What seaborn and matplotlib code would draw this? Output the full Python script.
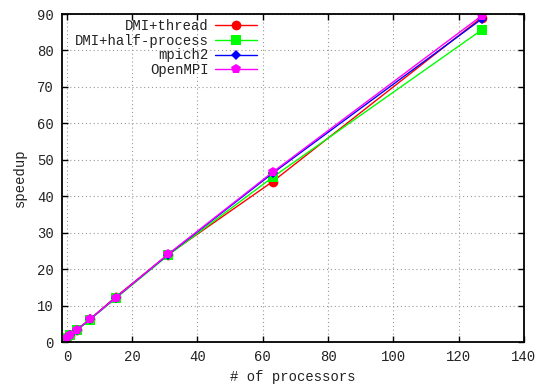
import matplotlib
matplotlib.use("Agg")
import matplotlib.pyplot as plt
import seaborn as sns
import pandas as pd

# data
processors = [0, 1, 3, 7, 15, 31, 63, 127]
dmi_thread = [1.0, 2.0, 3.3, 6.2, 12.4, 24.0, 44.0, 89.0]
dmi_half_process = [1.0, 1.9, 3.2, 6.1, 12.0, 23.8, 45.2, 85.6]
mpich2 = [1.0, 2.0, 3.3, 6.2, 12.2, 24.0, 46.3, 88.6]
openmpi = [1.0, 2.0, 3.3, 6.2, 12.2, 24.1, 46.6, 89.5]
series_names = ["DMI+thread", "DMI+half-process", "mpich2", "OpenMPI"]
x_ticks = [0, 20, 40, 60, 80, 100, 120, 140]
y_ticks = [0, 10, 20, 30, 40, 50, 60, 70, 80, 90]

sns.set_style("ticks")
plt.rcParams['font.family'] = ['Liberation Mono', 'DejaVu Sans Mono']
plt.rcParams['font.size'] = 10

fig = plt.figure(figsize=(5.4, 3.87), dpi=100)
ax = fig.add_axes([62/540, 1-342/387, (524-62)/540, (342-14)/387])

colors = ["#ff0000", "#00ff00", "#0000ff", "#ff00ff"]
markers = ["o", "s", "D", "p"]
msizes = [7, 7, 5, 7.5]
values = [dmi_thread, dmi_half_process, mpich2, openmpi]

for name, vals, c, m, ms in zip(series_names, values, colors, markers, msizes):
    df = pd.DataFrame({"x": processors, "y": vals})
    sns.lineplot(data=df, x="x", y="y", ax=ax, color=c, marker=m,
                 markersize=ms, markeredgewidth=0, linewidth=1.0, label=name)

ax.set_xlim(-1.5, 140)
ax.set_ylim(0, 90)
ax.set_xticks(x_ticks)
ax.set_yticks(y_ticks)
ax.tick_params(direction="in", length=4, width=1, top=True, right=True,
               labelsize=10, colors="#000000", labelcolor="#222222", pad=6)
ax.grid(True, linestyle=(0, (1, 2.5)), color="#999999", linewidth=0.8)
for s in ax.spines.values():
    s.set_visible(True)
    s.set_linewidth(1.3)
    s.set_color("black")

ax.set_xlabel("# of processors", fontsize=10, labelpad=4, color="#222222")
ax.set_ylabel("speedup", fontsize=10, labelpad=7, color="#222222")

leg = ax.legend(loc="upper right", bbox_to_anchor=(257/540, 1-19/387),
                bbox_transform=fig.transFigure, frameon=False, markerfirst=False,
                handlelength=3.0, handletextpad=0.5, labelspacing=0.05,
                borderpad=0, borderaxespad=0, fontsize=10)
for t in leg.get_texts():
    t.set_color("#222222")

fig.savefig("out.png", dpi=100)
